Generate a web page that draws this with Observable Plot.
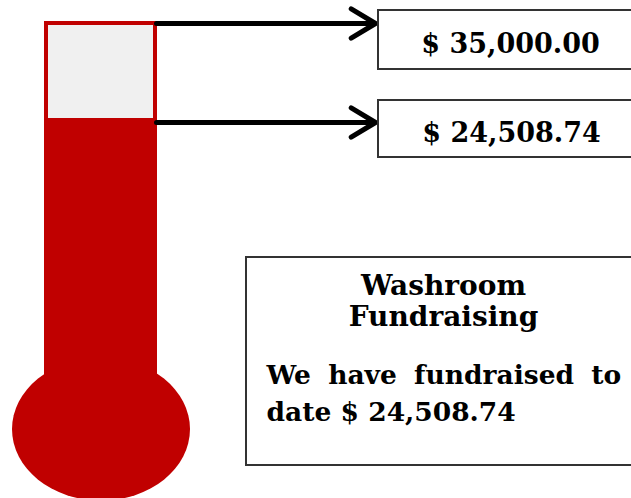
<!DOCTYPE html>
<html>
<head>
<meta charset="utf-8">
<script src="https://cdn.jsdelivr.net/npm/d3@7"></script>
<script src="https://cdn.jsdelivr.net/npm/@observablehq/plot@0.6"></script>
<style>
  html, body { margin: 0; padding: 0; background: #fff; overflow: hidden; }
</style>
</head>
<body>
<div id="chart"></div>
<script>
// ---- data ----
const labels = ["Goal", "Raised"];
const amounts = [35000.00, 24508.74];
const titleLines = ["Washroom", "Fundraising"];
const bodyLines = ["We have fundraised to", "date $ 24,508.74"];

// ---- derived ----
const goal = amounts[0];
const raised = amounts[1];
const fmt = v => "$ " + d3.format(",.2f")(v);
const levels = labels.map((label, i) => ({label, amount: amounts[i], text: fmt(amounts[i])}));
const goalRow = levels.filter(d => d.label === "Goal");
const raisedRow = levels.filter(d => d.label === "Raised");

const RED = "#c00000";
const GRAY = "#f0f0f0";
const BORDER = "#333333";
const FONT = "DejaVu Serif";

// bulb of the thermometer (function mark using Plot's scales)
const bulb = (index, scales) => {
  const {x, y} = scales;
  return d3.create("svg:ellipse")
    .attr("cx", x(101))
    .attr("cy", y(0) + 82.5)
    .attr("rx", x(89) - x(0))
    .attr("ry", 71.5)
    .attr("fill", RED)
    .node();
};

const arrowStyle = {x1: 156, x2: 375, y1: "amount", y2: "amount", stroke: "black", strokeWidth: 5,
  headLength: 8.5, headAngle: 62, strokeLinecap: "round", strokeLinejoin: "round"};
const textStyle = {fontFamily: FONT, fontWeight: "bold", fill: "black"};
const boxStyle = {fill: "white", stroke: BORDER, strokeWidth: 1.5, shapeRendering: "crispEdges"};

const chart = Plot.plot({
  width: 631,
  height: 498,
  margin: 0,
  x: {domain: [0, 631], range: [0, 631], axis: null},
  y: {domain: [0, goal], range: [346.6, 23], axis: null},
  marks: [
    bulb,
    // mercury column
    Plot.rect([raised], {x1: 44, x2: 157, y1: 0, y2: d => d, fill: RED, insetBottom: -40}),
    // empty part of the tube
    Plot.rect([goal], {x1: 46, x2: 155, y1: raised, y2: d => d, fill: GRAY, stroke: RED, strokeWidth: 4}),
    // arrows
    Plot.arrow(goalRow, {...arrowStyle}),
    Plot.arrow(raisedRow, {...arrowStyle, dy: 2}),
    // value boxes
    Plot.rect(goalRow, {x1: 378, x2: 660, y1: "amount", y2: "amount", insetTop: -13, insetBottom: -46, ...boxStyle}),
    Plot.rect(raisedRow, {x1: 378, x2: 660, y1: "amount", y2: "amount", insetTop: -20, insetBottom: -37, ...boxStyle}),
    Plot.text(goalRow, {x: 510, y: "amount", text: "text", lineAnchor: "bottom", dy: 29, fontSize: 27, ...textStyle}),
    Plot.text(raisedRow, {x: 511, y: "amount", text: "text", lineAnchor: "bottom", dy: 22, fontSize: 27, ...textStyle}),
    // text box
    Plot.rect([0], {x1: 246, x2: 660, y1: 0, y2: 0, insetTop: -89.6, insetBottom: -118.4, ...boxStyle}),
    Plot.text([titleLines.join("\n")], {x: 443, y: 0, text: d => d, lineAnchor: "bottom", lineHeight: 31 / 28,
      dy: -21.6, fontSize: 28, ...textStyle}),
    Plot.text([bodyLines.join("\n")], {x: 266, y: 0, text: d => d, textAnchor: "start", lineAnchor: "bottom",
      lineHeight: 37 / 26.5, dy: 73.4, fontSize: 26.5, ...textStyle})
  ]
});

// justify the first body line like the reference
d3.select(chart).selectAll("tspan")
  .filter(function() { return this.textContent === bodyLines[0]; })
  .style("word-spacing", "8px");

document.getElementById("chart").appendChild(chart);
</script>
</body>
</html>
